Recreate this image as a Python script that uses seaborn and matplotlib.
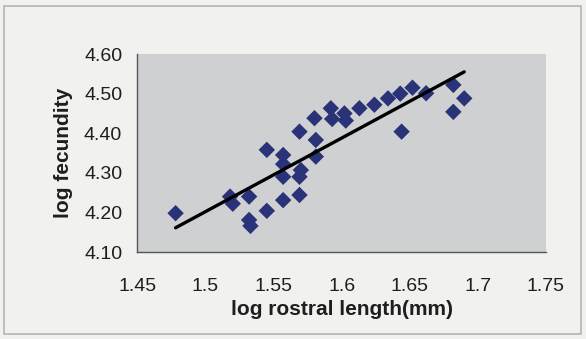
import matplotlib
matplotlib.use("Agg")
import matplotlib.pyplot as plt
import matplotlib.patches as patches
import seaborn as sns
import pandas as pd

# log rostral length (mm) and log fecundity
rostral = [1.478, 1.518, 1.520, 1.532, 1.532, 1.533, 1.545, 1.545,
           1.557, 1.557, 1.557, 1.557, 1.569, 1.569, 1.570, 1.569,
           1.581, 1.581, 1.580, 1.592, 1.593, 1.602, 1.603, 1.613,
           1.624, 1.634, 1.643, 1.652, 1.644, 1.662, 1.682, 1.682, 1.690]
fecundity = [4.198, 4.240, 4.222, 4.240, 4.181, 4.166, 4.204, 4.358,
             4.345, 4.322, 4.290, 4.231, 4.244, 4.290, 4.307, 4.404,
             4.341, 4.383, 4.438, 4.463, 4.436, 4.450, 4.432, 4.463,
             4.472, 4.488, 4.500, 4.515, 4.404, 4.501, 4.522, 4.454, 4.488]

x_ticks = [1.45, 1.5, 1.55, 1.6, 1.65, 1.7, 1.75]
x_tick_labels = ["1.45", "1.5", "1.55", "1.6", "1.65", "1.7", "1.75"]
y_ticks = [4.10, 4.20, 4.30, 4.40, 4.50, 4.60]
y_tick_labels = ["4.10", "4.20", "4.30", "4.40", "4.50", "4.60"]

df = pd.DataFrame({"rostral": rostral, "fecundity": fecundity})

sns.set_style("white")
plt.rcParams["font.family"] = ["Liberation Sans", "DejaVu Sans"]

fig = plt.figure(figsize=(5.86, 3.39), dpi=100)
fig.patch.set_facecolor("#f1f1f0")
ax = fig.add_axes([0.2346, 0.2566, 0.697, 0.584])
ax.set_facecolor("#cfd0d2")

# outer chart border
fig.patches.append(patches.Rectangle((0.007, 0.015), 0.985, 0.968, transform=fig.transFigure,
                                     fill=False, edgecolor="#b4b4b4", linewidth=1.2))

sns.regplot(data=df, x="rostral", y="fecundity", ax=ax, ci=None,
            marker="D",
            scatter_kws={"s": 70, "color": "#2a3278", "alpha": 1, "edgecolor": "none", "zorder": 3},
            line_kws={"color": "black", "linewidth": 2.4, "zorder": 4})

ax.set_xlim(1.45, 1.75)
ax.set_ylim(4.10, 4.60)
ax.set_xticks(x_ticks)
ax.set_xticklabels(x_tick_labels)
ax.set_yticks(y_ticks)
ax.set_yticklabels(y_tick_labels)
ax.tick_params(axis="both", labelsize=14, colors="#555555", length=3, width=1,
               direction="out")
ax.tick_params(axis="x", pad=16)
ax.tick_params(axis="y", pad=8)
ax.tick_params(axis="both", labelcolor="#1e1e1e")

for side in ["top", "right"]:
    ax.spines[side].set_visible(False)
for side in ["left", "bottom"]:
    ax.spines[side].set_color("#555555")
    ax.spines[side].set_linewidth(1)

ax.set_xlabel("log rostral length(mm)", fontsize=15, fontweight="bold", color="#1e1e1e", labelpad=3)
ax.set_ylabel("log fecundity", fontsize=15, fontweight="bold", color="#1e1e1e", labelpad=8)

fig.savefig("out.png", dpi=100, facecolor=fig.get_facecolor())
